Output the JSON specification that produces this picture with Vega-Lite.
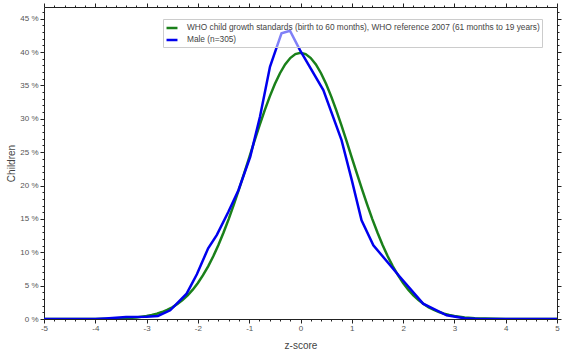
{
  "$schema": "https://vega.github.io/schema/vega-lite/v6.json",
  "width": 513,
  "height": 312,
  "autosize": "none",
  "padding": {"left": 44, "top": 7, "right": 9, "bottom": 37},
  "background": "white",
  "config": {
    "view": {"stroke": null},
    "font": "Liberation Sans",
    "axis": {"labelFont": "Liberation Sans", "titleFont": "Liberation Sans", "labelColor": "#555", "titleColor": "#444", "titleFontWeight": "normal", "domainColor": "#222", "tickColor": "#222", "labelFontSize": 8, "titleFontSize": 10, "grid": false}
  },
  "data": {"values": [
    {"z": -5.0, "pct": 0.0, "series": "WHO child growth standards (birth to 60 months), WHO reference 2007 (61 months to 19 years)"},
    {"z": -4.5, "pct": 0.0016, "series": "WHO child growth standards (birth to 60 months), WHO reference 2007 (61 months to 19 years)"},
    {"z": -4.0, "pct": 0.013, "series": "WHO child growth standards (birth to 60 months), WHO reference 2007 (61 months to 19 years)"},
    {"z": -3.8, "pct": 0.029, "series": "WHO child growth standards (birth to 60 months), WHO reference 2007 (61 months to 19 years)"},
    {"z": -3.6, "pct": 0.061, "series": "WHO child growth standards (birth to 60 months), WHO reference 2007 (61 months to 19 years)"},
    {"z": -3.4, "pct": 0.123, "series": "WHO child growth standards (birth to 60 months), WHO reference 2007 (61 months to 19 years)"},
    {"z": -3.2, "pct": 0.238, "series": "WHO child growth standards (birth to 60 months), WHO reference 2007 (61 months to 19 years)"},
    {"z": -3.0, "pct": 0.443, "series": "WHO child growth standards (birth to 60 months), WHO reference 2007 (61 months to 19 years)"},
    {"z": -2.9, "pct": 0.595, "series": "WHO child growth standards (birth to 60 months), WHO reference 2007 (61 months to 19 years)"},
    {"z": -2.8, "pct": 0.792, "series": "WHO child growth standards (birth to 60 months), WHO reference 2007 (61 months to 19 years)"},
    {"z": -2.7, "pct": 1.042, "series": "WHO child growth standards (birth to 60 months), WHO reference 2007 (61 months to 19 years)"},
    {"z": -2.6, "pct": 1.358, "series": "WHO child growth standards (birth to 60 months), WHO reference 2007 (61 months to 19 years)"},
    {"z": -2.5, "pct": 1.753, "series": "WHO child growth standards (birth to 60 months), WHO reference 2007 (61 months to 19 years)"},
    {"z": -2.4, "pct": 2.239, "series": "WHO child growth standards (birth to 60 months), WHO reference 2007 (61 months to 19 years)"},
    {"z": -2.3, "pct": 2.833, "series": "WHO child growth standards (birth to 60 months), WHO reference 2007 (61 months to 19 years)"},
    {"z": -2.2, "pct": 3.547, "series": "WHO child growth standards (birth to 60 months), WHO reference 2007 (61 months to 19 years)"},
    {"z": -2.1, "pct": 4.398, "series": "WHO child growth standards (birth to 60 months), WHO reference 2007 (61 months to 19 years)"},
    {"z": -2.0, "pct": 5.399, "series": "WHO child growth standards (birth to 60 months), WHO reference 2007 (61 months to 19 years)"},
    {"z": -1.9, "pct": 6.562, "series": "WHO child growth standards (birth to 60 months), WHO reference 2007 (61 months to 19 years)"},
    {"z": -1.8, "pct": 7.895, "series": "WHO child growth standards (birth to 60 months), WHO reference 2007 (61 months to 19 years)"},
    {"z": -1.7, "pct": 9.405, "series": "WHO child growth standards (birth to 60 months), WHO reference 2007 (61 months to 19 years)"},
    {"z": -1.6, "pct": 11.092, "series": "WHO child growth standards (birth to 60 months), WHO reference 2007 (61 months to 19 years)"},
    {"z": -1.5, "pct": 12.952, "series": "WHO child growth standards (birth to 60 months), WHO reference 2007 (61 months to 19 years)"},
    {"z": -1.4, "pct": 14.973, "series": "WHO child growth standards (birth to 60 months), WHO reference 2007 (61 months to 19 years)"},
    {"z": -1.3, "pct": 17.137, "series": "WHO child growth standards (birth to 60 months), WHO reference 2007 (61 months to 19 years)"},
    {"z": -1.2, "pct": 19.419, "series": "WHO child growth standards (birth to 60 months), WHO reference 2007 (61 months to 19 years)"},
    {"z": -1.1, "pct": 21.785, "series": "WHO child growth standards (birth to 60 months), WHO reference 2007 (61 months to 19 years)"},
    {"z": -1.0, "pct": 24.197, "series": "WHO child growth standards (birth to 60 months), WHO reference 2007 (61 months to 19 years)"},
    {"z": -0.9, "pct": 26.609, "series": "WHO child growth standards (birth to 60 months), WHO reference 2007 (61 months to 19 years)"},
    {"z": -0.8, "pct": 28.969, "series": "WHO child growth standards (birth to 60 months), WHO reference 2007 (61 months to 19 years)"},
    {"z": -0.7, "pct": 31.225, "series": "WHO child growth standards (birth to 60 months), WHO reference 2007 (61 months to 19 years)"},
    {"z": -0.6, "pct": 33.322, "series": "WHO child growth standards (birth to 60 months), WHO reference 2007 (61 months to 19 years)"},
    {"z": -0.5, "pct": 35.207, "series": "WHO child growth standards (birth to 60 months), WHO reference 2007 (61 months to 19 years)"},
    {"z": -0.4, "pct": 36.827, "series": "WHO child growth standards (birth to 60 months), WHO reference 2007 (61 months to 19 years)"},
    {"z": -0.3, "pct": 38.139, "series": "WHO child growth standards (birth to 60 months), WHO reference 2007 (61 months to 19 years)"},
    {"z": -0.2, "pct": 39.104, "series": "WHO child growth standards (birth to 60 months), WHO reference 2007 (61 months to 19 years)"},
    {"z": -0.1, "pct": 39.695, "series": "WHO child growth standards (birth to 60 months), WHO reference 2007 (61 months to 19 years)"},
    {"z": 0.0, "pct": 39.894, "series": "WHO child growth standards (birth to 60 months), WHO reference 2007 (61 months to 19 years)"},
    {"z": 0.1, "pct": 39.695, "series": "WHO child growth standards (birth to 60 months), WHO reference 2007 (61 months to 19 years)"},
    {"z": 0.2, "pct": 39.104, "series": "WHO child growth standards (birth to 60 months), WHO reference 2007 (61 months to 19 years)"},
    {"z": 0.3, "pct": 38.139, "series": "WHO child growth standards (birth to 60 months), WHO reference 2007 (61 months to 19 years)"},
    {"z": 0.4, "pct": 36.827, "series": "WHO child growth standards (birth to 60 months), WHO reference 2007 (61 months to 19 years)"},
    {"z": 0.5, "pct": 35.207, "series": "WHO child growth standards (birth to 60 months), WHO reference 2007 (61 months to 19 years)"},
    {"z": 0.6, "pct": 33.322, "series": "WHO child growth standards (birth to 60 months), WHO reference 2007 (61 months to 19 years)"},
    {"z": 0.7, "pct": 31.225, "series": "WHO child growth standards (birth to 60 months), WHO reference 2007 (61 months to 19 years)"},
    {"z": 0.8, "pct": 28.969, "series": "WHO child growth standards (birth to 60 months), WHO reference 2007 (61 months to 19 years)"},
    {"z": 0.9, "pct": 26.609, "series": "WHO child growth standards (birth to 60 months), WHO reference 2007 (61 months to 19 years)"},
    {"z": 1.0, "pct": 24.197, "series": "WHO child growth standards (birth to 60 months), WHO reference 2007 (61 months to 19 years)"},
    {"z": 1.1, "pct": 21.785, "series": "WHO child growth standards (birth to 60 months), WHO reference 2007 (61 months to 19 years)"},
    {"z": 1.2, "pct": 19.419, "series": "WHO child growth standards (birth to 60 months), WHO reference 2007 (61 months to 19 years)"},
    {"z": 1.3, "pct": 17.137, "series": "WHO child growth standards (birth to 60 months), WHO reference 2007 (61 months to 19 years)"},
    {"z": 1.4, "pct": 14.973, "series": "WHO child growth standards (birth to 60 months), WHO reference 2007 (61 months to 19 years)"},
    {"z": 1.5, "pct": 12.952, "series": "WHO child growth standards (birth to 60 months), WHO reference 2007 (61 months to 19 years)"},
    {"z": 1.6, "pct": 11.092, "series": "WHO child growth standards (birth to 60 months), WHO reference 2007 (61 months to 19 years)"},
    {"z": 1.7, "pct": 9.405, "series": "WHO child growth standards (birth to 60 months), WHO reference 2007 (61 months to 19 years)"},
    {"z": 1.8, "pct": 7.895, "series": "WHO child growth standards (birth to 60 months), WHO reference 2007 (61 months to 19 years)"},
    {"z": 1.9, "pct": 6.562, "series": "WHO child growth standards (birth to 60 months), WHO reference 2007 (61 months to 19 years)"},
    {"z": 2.0, "pct": 5.399, "series": "WHO child growth standards (birth to 60 months), WHO reference 2007 (61 months to 19 years)"},
    {"z": 2.1, "pct": 4.398, "series": "WHO child growth standards (birth to 60 months), WHO reference 2007 (61 months to 19 years)"},
    {"z": 2.2, "pct": 3.547, "series": "WHO child growth standards (birth to 60 months), WHO reference 2007 (61 months to 19 years)"},
    {"z": 2.3, "pct": 2.833, "series": "WHO child growth standards (birth to 60 months), WHO reference 2007 (61 months to 19 years)"},
    {"z": 2.4, "pct": 2.239, "series": "WHO child growth standards (birth to 60 months), WHO reference 2007 (61 months to 19 years)"},
    {"z": 2.5, "pct": 1.753, "series": "WHO child growth standards (birth to 60 months), WHO reference 2007 (61 months to 19 years)"},
    {"z": 2.6, "pct": 1.358, "series": "WHO child growth standards (birth to 60 months), WHO reference 2007 (61 months to 19 years)"},
    {"z": 2.7, "pct": 1.042, "series": "WHO child growth standards (birth to 60 months), WHO reference 2007 (61 months to 19 years)"},
    {"z": 2.8, "pct": 0.792, "series": "WHO child growth standards (birth to 60 months), WHO reference 2007 (61 months to 19 years)"},
    {"z": 2.9, "pct": 0.595, "series": "WHO child growth standards (birth to 60 months), WHO reference 2007 (61 months to 19 years)"},
    {"z": 3.0, "pct": 0.443, "series": "WHO child growth standards (birth to 60 months), WHO reference 2007 (61 months to 19 years)"},
    {"z": 3.2, "pct": 0.238, "series": "WHO child growth standards (birth to 60 months), WHO reference 2007 (61 months to 19 years)"},
    {"z": 3.4, "pct": 0.123, "series": "WHO child growth standards (birth to 60 months), WHO reference 2007 (61 months to 19 years)"},
    {"z": 3.6, "pct": 0.061, "series": "WHO child growth standards (birth to 60 months), WHO reference 2007 (61 months to 19 years)"},
    {"z": 3.8, "pct": 0.029, "series": "WHO child growth standards (birth to 60 months), WHO reference 2007 (61 months to 19 years)"},
    {"z": 4.0, "pct": 0.013, "series": "WHO child growth standards (birth to 60 months), WHO reference 2007 (61 months to 19 years)"},
    {"z": 4.5, "pct": 0.0016, "series": "WHO child growth standards (birth to 60 months), WHO reference 2007 (61 months to 19 years)"},
    {"z": 5.0, "pct": 0.0, "series": "WHO child growth standards (birth to 60 months), WHO reference 2007 (61 months to 19 years)"},
    {"z": -5.0, "pct": 0.0, "series": "Male (n=305)"},
    {"z": -4.0, "pct": 0.0, "series": "Male (n=305)"},
    {"z": -3.8, "pct": 0.08, "series": "Male (n=305)"},
    {"z": -3.4, "pct": 0.3, "series": "Male (n=305)"},
    {"z": -3.0, "pct": 0.35, "series": "Male (n=305)"},
    {"z": -2.78, "pct": 0.45, "series": "Male (n=305)"},
    {"z": -2.54, "pct": 1.3, "series": "Male (n=305)"},
    {"z": -2.22, "pct": 3.8, "series": "Male (n=305)"},
    {"z": -2.02, "pct": 6.7, "series": "Male (n=305)"},
    {"z": -1.8, "pct": 10.6, "series": "Male (n=305)"},
    {"z": -1.63, "pct": 12.6, "series": "Male (n=305)"},
    {"z": -1.41, "pct": 16.0, "series": "Male (n=305)"},
    {"z": -1.21, "pct": 19.3, "series": "Male (n=305)"},
    {"z": -0.98, "pct": 24.3, "series": "Male (n=305)"},
    {"z": -0.79, "pct": 30.3, "series": "Male (n=305)"},
    {"z": -0.595, "pct": 37.8, "series": "Male (n=305)"},
    {"z": -0.46, "pct": 40.8, "series": "Male (n=305)"},
    {"z": -0.37, "pct": 42.8, "series": "Male (n=305)"},
    {"z": -0.205, "pct": 43.2, "series": "Male (n=305)"},
    {"z": -0.01, "pct": 40.3, "series": "Male (n=305)"},
    {"z": 0.445, "pct": 34.3, "series": "Male (n=305)"},
    {"z": 0.8, "pct": 26.8, "series": "Male (n=305)"},
    {"z": 1.0, "pct": 20.8, "series": "Male (n=305)"},
    {"z": 1.19, "pct": 14.8, "series": "Male (n=305)"},
    {"z": 1.42, "pct": 11.05, "series": "Male (n=305)"},
    {"z": 1.94, "pct": 6.3, "series": "Male (n=305)"},
    {"z": 2.39, "pct": 2.3, "series": "Male (n=305)"},
    {"z": 2.85, "pct": 0.55, "series": "Male (n=305)"},
    {"z": 3.2, "pct": 0.1, "series": "Male (n=305)"},
    {"z": 3.5, "pct": 0.0, "series": "Male (n=305)"},
    {"z": 5.0, "pct": 0.0, "series": "Male (n=305)"}
  ]},
  "layer": [
    {
      "mark": {"type": "line", "strokeWidth": 2.5, "clip": true},
      "encoding": {
        "x": {"field": "z", "type": "quantitative", "scale": {"domain": [-5, 5], "nice": false, "zero": false},
          "axis": {"orient": "bottom", "title": "z-score", "titlePadding": 8,
            "values": [-5,-4.8,-4.6,-4.4,-4.2,-4,-3.8,-3.6,-3.4,-3.2,-3,-2.8,-2.6,-2.4,-2.2,-2,-1.8,-1.6,-1.4,-1.2,-1,-0.8,-0.6,-0.4,-0.2,0,0.2,0.4,0.6,0.8,1,1.2,1.4,1.6,1.8,2,2.2,2.4,2.6,2.8,3,3.2,3.4,3.6,3.8,4,4.2,4.4,4.6,4.8,5],
            "labelExpr": "abs(datum.value - round(datum.value)) < 0.001 ? '' + round(datum.value) : ''",
            "tickSize": {"condition": {"test": "abs(datum.value - round(datum.value)) < 0.001", "value": 4}, "value": 2},
            "labelPadding": 1, "labelFlush": false, "labelOverlap": false}},
        "y": {"field": "pct", "type": "quantitative", "scale": {"domain": [0, 46.75], "nice": false},
          "axis": {"orient": "left", "title": "Children", "titlePadding": 3,
            "values": [0,1,2,3,4,5,6,7,8,9,10,11,12,13,14,15,16,17,18,19,20,21,22,23,24,25,26,27,28,29,30,31,32,33,34,35,36,37,38,39,40,41,42,43,44,45,46],
            "labelExpr": "datum.value % 5 === 0 ? datum.value + ' %' : ''",
            "tickSize": {"condition": {"test": "datum.value % 5 === 0", "value": 4}, "value": 2},
            "labelPadding": 2, "labelFlush": false, "labelOverlap": false}},
        "color": {"field": "series", "type": "nominal",
          "scale": {"domain": ["WHO child growth standards (birth to 60 months), WHO reference 2007 (61 months to 19 years)", "Male (n=305)"], "range": ["#1a801a", "#0000ee"]},
          "legend": {"title": null, "orient": "none", "legendX": 119, "legendY": 12,
            "symbolType": "stroke", "symbolSize": 120, "symbolStrokeWidth": 2.5,
            "labelFont": "Liberation Sans", "labelFontSize": 8.3, "labelColor": "#444",
            "fillColor": "rgba(255,255,255,0.5)", "strokeColor": "#cccccc", "padding": 2,
            "rowPadding": 0, "labelLimit": 500, "columnPadding": 0, "labelOffset": 8}}
      }
    },
    {
      "mark": {"type": "line", "opacity": 0},
      "encoding": {
        "x": {"field": "z", "type": "quantitative",
          "axis": {"orient": "top", "title": null, "labels": false,
            "values": [-5,-4.8,-4.6,-4.4,-4.2,-4,-3.8,-3.6,-3.4,-3.2,-3,-2.8,-2.6,-2.4,-2.2,-2,-1.8,-1.6,-1.4,-1.2,-1,-0.8,-0.6,-0.4,-0.2,0,0.2,0.4,0.6,0.8,1,1.2,1.4,1.6,1.8,2,2.2,2.4,2.6,2.8,3,3.2,3.4,3.6,3.8,4,4.2,4.4,4.6,4.8,5],
            "tickSize": {"condition": {"test": "abs(datum.value - round(datum.value)) < 0.001", "value": 4}, "value": 2}}},
        "y": {"field": "pct", "type": "quantitative",
          "axis": {"orient": "right", "title": null, "labels": false,
            "values": [0,1,2,3,4,5,6,7,8,9,10,11,12,13,14,15,16,17,18,19,20,21,22,23,24,25,26,27,28,29,30,31,32,33,34,35,36,37,38,39,40,41,42,43,44,45,46],
            "tickSize": {"condition": {"test": "datum.value % 5 === 0", "value": 4}, "value": 2}}}
      }
    }
  ],
  "resolve": {"axis": {"x": "independent", "y": "independent"}}
}
